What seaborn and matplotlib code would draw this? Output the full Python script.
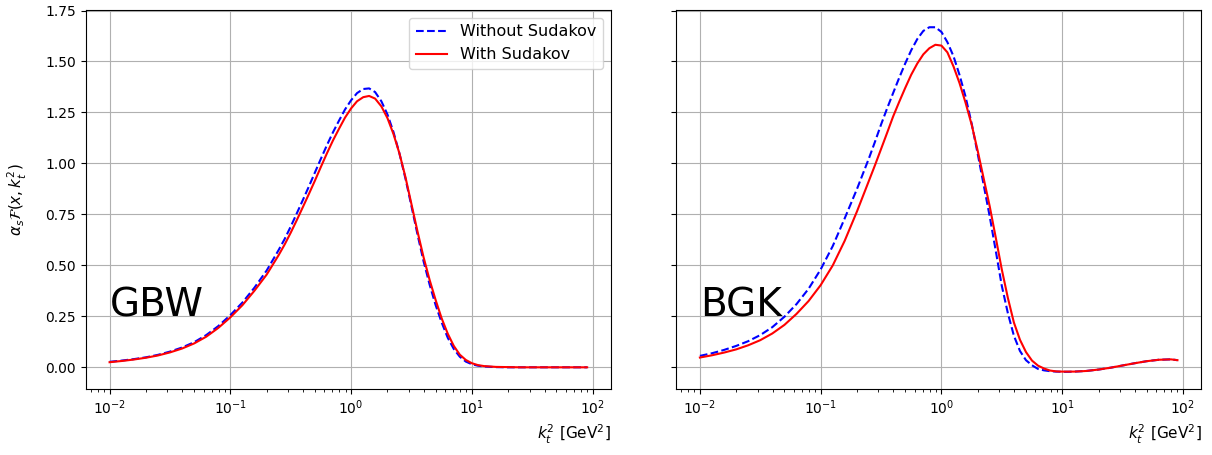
import numpy as np
import pandas as pd
import matplotlib
matplotlib.use("Agg")
import matplotlib.pyplot as plt
import seaborn as sns

# k_t^2 grid [GeV^2]
kt2 = [0.01, 0.0126, 0.0158, 0.02, 0.0251, 0.0316, 0.0398, 0.0501, 0.0631, 0.0794,
       0.1, 0.126, 0.158, 0.2,
       0.251, 0.282, 0.316, 0.355, 0.398, 0.447, 0.501, 0.562, 0.631, 0.708,
       0.794, 0.891, 1.0, 1.12, 1.26, 1.41, 1.58, 1.78, 2.0, 2.24,
       2.51, 2.82, 3.16, 3.55, 3.98, 4.47, 5.01, 5.62, 6.31, 7.08,
       7.94, 8.91, 10.0, 11.2, 12.6,
       15.8, 20.0, 25.1, 31.6, 39.8, 50.1, 63.1, 79.4, 90.0]

gbw_without = [0.027, 0.033, 0.040, 0.049, 0.061, 0.077, 0.097, 0.123, 0.158, 0.202,
               0.256, 0.318, 0.390, 0.475,
               0.575, 0.63, 0.69, 0.755, 0.82, 0.887, 0.955, 1.023, 1.09, 1.153,
               1.21, 1.265, 1.31, 1.345, 1.365, 1.368, 1.35, 1.305, 1.24, 1.155,
               1.05, 0.925, 0.79, 0.65, 0.52, 0.405, 0.305, 0.22, 0.145, 0.09,
               0.052, 0.028, 0.015, 0.008, 0.004,
               0.001, 0.0, 0.0, 0.0, 0.0, 0.0, 0.0, 0.0, 0.0]
gbw_with = [0.025, 0.031, 0.038, 0.047, 0.058, 0.073, 0.092, 0.117, 0.150, 0.193,
            0.245, 0.305, 0.375, 0.455,
            0.55, 0.603, 0.66, 0.722, 0.785, 0.85, 0.915, 0.983, 1.05, 1.113,
            1.17, 1.225, 1.27, 1.305, 1.325, 1.331, 1.318, 1.28, 1.222, 1.145,
            1.05, 0.932, 0.80, 0.665, 0.54, 0.428, 0.33, 0.24, 0.165, 0.105,
            0.062, 0.036, 0.02, 0.011, 0.006,
            0.002, 0.001, 0.0, 0.0, 0.0, 0.0, 0.0, 0.0, 0.0]

bgk_without = [0.056, 0.069, 0.085, 0.105, 0.128, 0.158, 0.197, 0.248, 0.310, 0.385,
               0.480, 0.595, 0.730, 0.875,
               1.025, 1.107, 1.19, 1.27, 1.345, 1.42, 1.49, 1.555, 1.61, 1.65,
               1.668, 1.668, 1.645, 1.595, 1.525, 1.435, 1.33, 1.195, 1.045, 0.893,
               0.74, 0.57, 0.40, 0.265, 0.155, 0.08, 0.035, 0.01, -0.008, -0.015,
               -0.019, -0.021, -0.022, -0.022, -0.021,
               -0.018, -0.011, -0.002, 0.009, 0.020, 0.030, 0.037, 0.039, 0.035]
bgk_with = [0.048, 0.059, 0.072, 0.088, 0.108, 0.133, 0.166, 0.208, 0.262, 0.325,
            0.403, 0.500, 0.620, 0.765,
            0.915, 0.992, 1.07, 1.15, 1.23, 1.302, 1.37, 1.435, 1.49, 1.535,
            1.565, 1.582, 1.578, 1.545, 1.475, 1.395, 1.30, 1.19, 1.06, 0.925,
            0.79, 0.635, 0.48, 0.34, 0.22, 0.135, 0.075, 0.033, 0.008, -0.006,
            -0.016, -0.02, -0.021, -0.021, -0.021,
            -0.018, -0.011, -0.002, 0.009, 0.020, 0.030, 0.037, 0.039, 0.035]

labels = ["Without Sudakov", "With Sudakov"]
panels = ["GBW", "BGK"]

fig, axes = plt.subplots(1, 2, figsize=(12.12, 4.55), dpi=100, sharey=True)
fig.subplots_adjust(left=0.0707, right=0.9912, bottom=0.145, top=0.978, wspace=0.1237)

series = {"GBW": (gbw_without, gbw_with), "BGK": (bgk_without, bgk_with)}

for ax, name in zip(axes, panels):
    wo, wi = series[name]
    df_wo = pd.DataFrame({"kt2": kt2, "val": wo})
    df_wi = pd.DataFrame({"kt2": kt2, "val": wi})
    sns.lineplot(data=df_wo, x="kt2", y="val", ax=ax, color="blue", linestyle="--",
                 linewidth=1.5, label=labels[0] if name == "GBW" else None)
    sns.lineplot(data=df_wi, x="kt2", y="val", ax=ax, color="red", linestyle="-",
                 linewidth=1.5, label=labels[1] if name == "GBW" else None)
    ax.set_xscale("log")
    ax.grid(True, color="#b0b0b0", linewidth=0.8)
    ax.set_axisbelow(True)
    ax.set_xlabel(r"$k_t^2$ [GeV$^2$]", loc="right", fontsize=11)
    ax.set_ylabel("")
    ax.text(0.01, 0.25, name, fontsize=28, color="black")
    for s in ax.spines.values():
        s.set_color("black")
        s.set_linewidth(0.8)

axes[0].set_ylabel(r"$\alpha_s\mathcal{F}(x,k_t^2)$", fontsize=11, labelpad=12)
axes[0].set_yticks([0.0, 0.25, 0.5, 0.75, 1.0, 1.25, 1.5, 1.75])
axes[0].legend(loc="upper right", fontsize=11.5)
if axes[1].get_legend() is not None:
    axes[1].get_legend().remove()

fig.savefig("out.png", dpi=100)
